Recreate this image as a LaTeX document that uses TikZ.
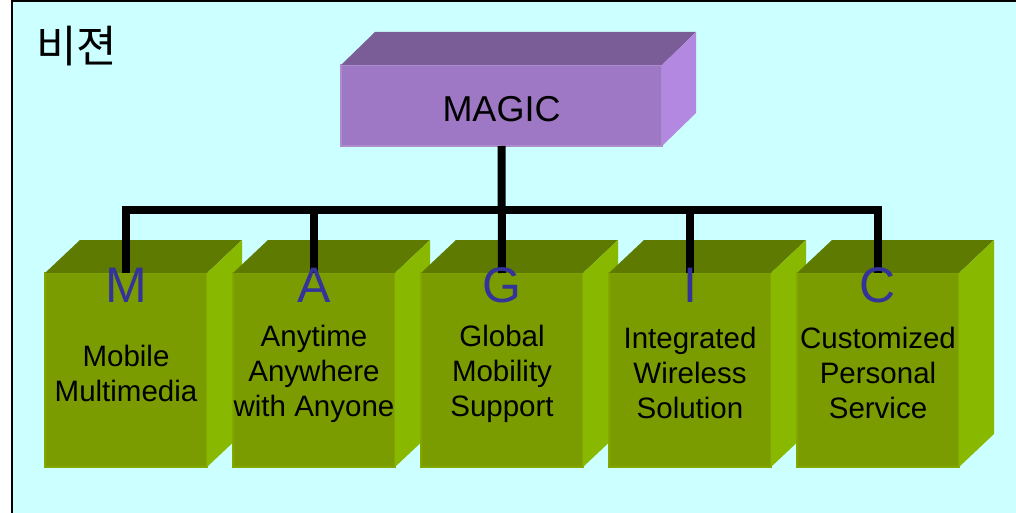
\documentclass[tikz,border=0pt]{standalone}
\usepackage{fontspec}
\setmainfont{Liberation Sans}
\newfontfamily\krfont{Noto Sans CJK KR}
\definecolor{bgcyan}{HTML}{CCFFFF}
\definecolor{magicfront}{HTML}{9E78C4}
\definecolor{magictop}{HTML}{7A5C96}
\definecolor{magicside}{HTML}{B388E0}
\definecolor{greenfront}{HTML}{7A9C00}
\definecolor{greenedge}{HTML}{82A800}
\definecolor{greentop}{HTML}{5E7A00}
\definecolor{greenside}{HTML}{88B800}
\definecolor{letterblue}{HTML}{333399}
\tikzset{
  conn/.style={line width=8pt,black},
  gfront/.style={fill=greenfront,draw=greenedge,line width=1.2pt,inner sep=0pt,outer sep=0pt,
    minimum width=162pt,minimum height=194pt},
  mfront/.style={fill=magicfront,draw=magicfront!85!white,line width=1.2pt,inner sep=0pt,outer sep=0pt,
    minimum width=321pt,minimum height=81pt},
  boxtext/.style={align=center,font=\fontsize{29.5}{35}\selectfont},
  letter/.style={anchor=base,inner sep=0pt,text=letterblue,font=\fontsize{50}{50}\selectfont}
}
\begin{document}
\begin{tikzpicture}[x=1pt,y=-1pt]
\useasboundingbox (0,0) rectangle (1016,513);
\fill[bgcyan] (12,2) rectangle (1016,513);
\draw[line width=2pt] (11.5,513) -- (11.5,1) -- (1016,1);
\node[anchor=west,inner sep=0pt,font=\krfont\fontsize{44}{46}\selectfont] (title) at (36,46) {비젼};

% top block
\node[mfront] (magic) at (501.5,105.5) {};
\fill[magictop] (magic.north west) -- ++(34,-33) -- ([shift={(34,-33)}]magic.north east) -- (magic.north east) -- cycle;
\fill[magicside] (magic.north east) -- ++(34,-33) -- ([shift={(34,-33)}]magic.south east) -- (magic.south east) -- cycle;
\node[anchor=base,font=\fontsize{36}{36}\selectfont] (magictext) at (501.5,122) {MAGIC};

% five blocks
\foreach \n/\x in {m/126,a/314,g/502,i/690,c/878}{
  \node[gfront] (\n) at (\x,370) {};
  \fill[greentop] (\n.north west) -- ++(35,-33) -- ([shift={(35,-33)}]\n.north east) -- (\n.north east) -- cycle;
  \fill[greenside] (\n.north east) -- ++(35,-33) -- ([shift={(35,-33)}]\n.south east) -- (\n.south east) -- cycle;
}

% connectors
\coordinate (bar) at (502,210);
\draw[conn] (magic.south) -- (g.north);
\draw[conn,line join=miter] (m.north) |- (bar) -| (c.north);
\draw[conn] (a.north) -- (a.north |- bar);
\draw[conn] (i.north) -- (i.north |- bar);

% letters and texts
\foreach \n/\l in {m/M,a/A,g/G,i/I,c/C}
  \node[letter] (\n l) at (\n.north |- 0,302) {\l};
\node[boxtext] (mtext) at (126,373) {Mobile\\Multimedia};
\node[boxtext] (atext) at (314,374) {Anytime\\Anywhere\\with Anyone};
\node[boxtext] (gtext) at (502,374) {Global\\Mobility\\Support};
\node[boxtext] (itext) at (690,373) {Integrated\\Wireless\\Solution};
\node[boxtext] (ctext) at (878,373) {Customized\\Personal\\Service};
\end{tikzpicture}
\end{document}
